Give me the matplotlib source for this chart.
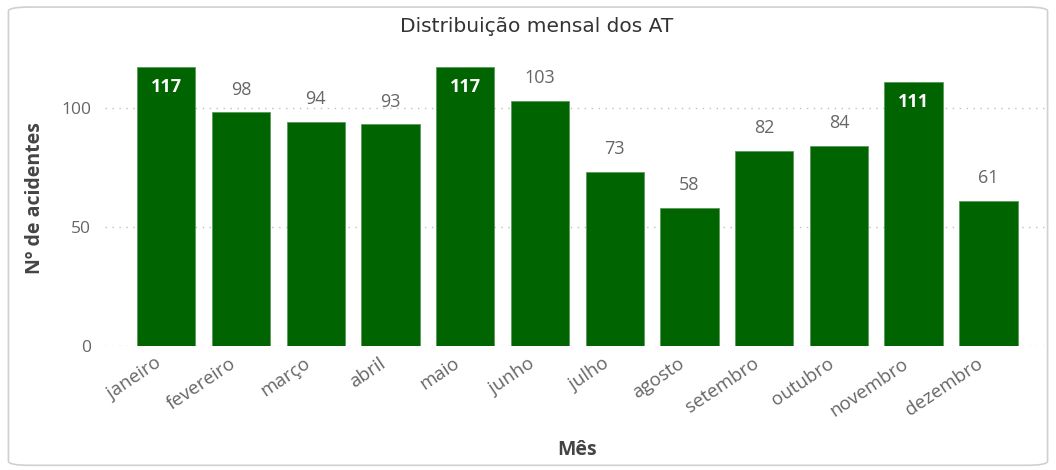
import matplotlib.pyplot as plt
import matplotlib.transforms as mtransforms
from matplotlib.patches import FancyBboxPatch

plt.rcParams['font.family'] = ['Open Sans', 'DejaVu Sans']

meses = ["janeiro", "fevereiro", "março", "abril", "maio", "junho",
         "julho", "agosto", "setembro", "outubro", "novembro", "dezembro"]
acidentes = [117, 98, 94, 93, 117, 103, 73, 58, 82, 84, 111, 61]
yticks = [0, 50, 100]

BAR = "#006400"
GRAY = "#666666"

fig = plt.figure(figsize=(10.56, 4.70), dpi=100)

# card frame (behind everything)
card = FancyBboxPatch((0.008, 0.01), 0.984, 0.975, boxstyle="round,pad=0,rounding_size=0.02",
                      transform=fig.transFigure, facecolor="none", edgecolor="#d0d0d0",
                      linewidth=1.2, mutation_aspect=470/1056, zorder=-5)
fig.patches.append(card)

ax = fig.add_axes([0.0994, 0.2638, 0.8946, 0.5932])
ax.set_facecolor("none")

x = list(range(len(meses)))
ax.bar(x, acidentes, width=0.78, color=BAR, edgecolor="#5a9a5a", linewidth=0.6, zorder=2)

ax.set_xlim(-0.82, 11.82)
ax.set_ylim(0, 117)

for xi, v in zip(x, acidentes):
    if v >= 110:
        ax.text(xi, v - 8.5, str(v), ha="center", va="center", color="white",
                fontsize=13, fontweight="bold", zorder=3)
    else:
        ax.text(xi, v + 9.5, str(v), ha="center", va="center", color=GRAY,
                fontsize=13, zorder=3)

ax.set_yticks(yticks)
ax.set_yticklabels([str(t) for t in yticks], color=GRAY, fontsize=12.5)
ax.yaxis.grid(True, linestyle=(0, (1, 4)), color="#c0c0c0", linewidth=1, zorder=0)
ax.set_axisbelow(True)
ax.tick_params(axis="y", length=0, pad=10)
ax.tick_params(axis="x", length=0, pad=6)

ax.set_xticks(x)
ax.set_xticklabels(meses, rotation=34, ha="right", rotation_mode="anchor",
                   color=GRAY, fontsize=13.5)
shift = mtransforms.ScaledTranslation(-0.12, 0, fig.dpi_scale_trans)
for lbl in ax.get_xticklabels():
    lbl.set_transform(lbl.get_transform() + shift)

for s in ax.spines.values():
    s.set_visible(False)

ax.set_ylabel("Nº de acidentes", fontsize=14, fontweight="bold", color="#444444")
ax.yaxis.set_label_coords(-0.0635, 0.53)
fig.text(0.546, 0.042, "Mês", ha="center", va="center", fontsize=14,
         fontweight="bold", color="#444444")
fig.text(0.508, 0.943, "Distribuição mensal dos AT", ha="center", va="center",
         fontsize=14.5, color="#333333", family="DejaVu Sans")

fig.savefig("out.png", dpi=100)
